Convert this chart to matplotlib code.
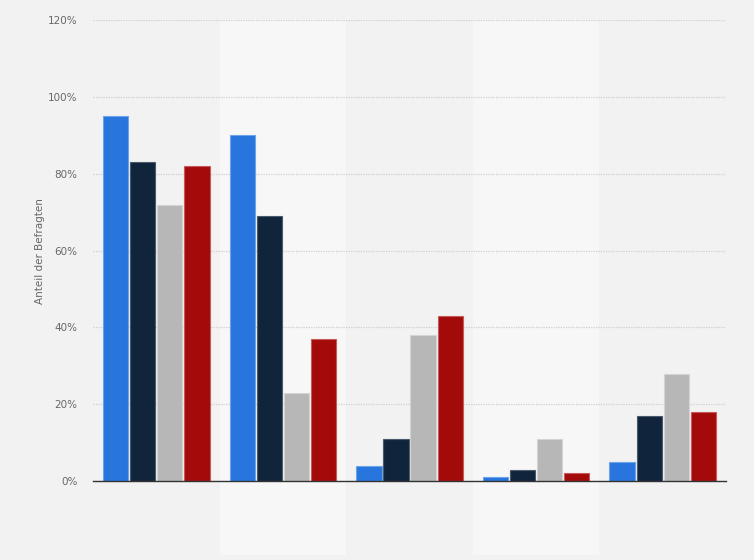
import numpy as np
import matplotlib.pyplot as plt
from matplotlib.ticker import FuncFormatter

# values (percent)
groups = ["1", "2", "3", "4", "5"]
blue = [95, 90, 4, 1, 5]
navy = [83, 69, 11, 3, 17]
gray = [72, 23, 38, 11, 28]
red = [82, 37, 43, 2, 18]

series = [blue, navy, gray, red]
colors = ["#2876dd", "#10253b", "#b7b7b7", "#a30a0a"]
edges = ["#6ea3ea", "#4a5a6c", "#d4d4d4", "#c85a5a"]

fig = plt.figure(figsize=(7.54, 5.6), dpi=100, facecolor="#f2f2f2")
ax = fig.add_axes([0.1233, 0.141, 0.8397, 0.823])
ax.set_facecolor("#f2f2f2")

x = np.arange(len(groups))
offsets = [-0.321, -0.107, 0.107, 0.321]
width = 0.2

# lighter bands behind every second group
for i in x:
    if i % 2 == 1:
        ax.axvspan(i - 0.5, i + 0.5, ymin=-0.16, ymax=1.0, color="#f7f7f7",
                   zorder=0, clip_on=False, linewidth=0)

for vals, off, c, e in zip(series, offsets, colors, edges):
    ax.bar(x + off, vals, width, color=c, edgecolor=e, linewidth=0.8, zorder=3)

ax.set_xlim(-0.5, len(groups) - 0.5)
ax.set_ylim(0, 120)
ax.set_yticks(range(0, 121, 20))
ax.yaxis.set_major_formatter(FuncFormatter(lambda v, p: f"{int(v)}%"))
ax.tick_params(axis="y", length=0, pad=11, labelsize=7.5, labelcolor="#666666")
ax.set_xticks([])
ax.grid(axis="y", color="#cfcfcf", linestyle=(0, (1, 1)), linewidth=0.9, zorder=1)

for s in ["top", "right", "left"]:
    ax.spines[s].set_visible(False)
ax.spines["bottom"].set_color("#333333")
ax.spines["bottom"].set_linewidth(1.0)
ax.spines["bottom"].set_zorder(4)

ax.set_ylabel("Anteil der Befragten", fontsize=7.5, color="#666666")
ax.yaxis.set_label_coords(-0.076, 0.5)

plt.savefig("out.png", dpi=100, facecolor=fig.get_facecolor())
